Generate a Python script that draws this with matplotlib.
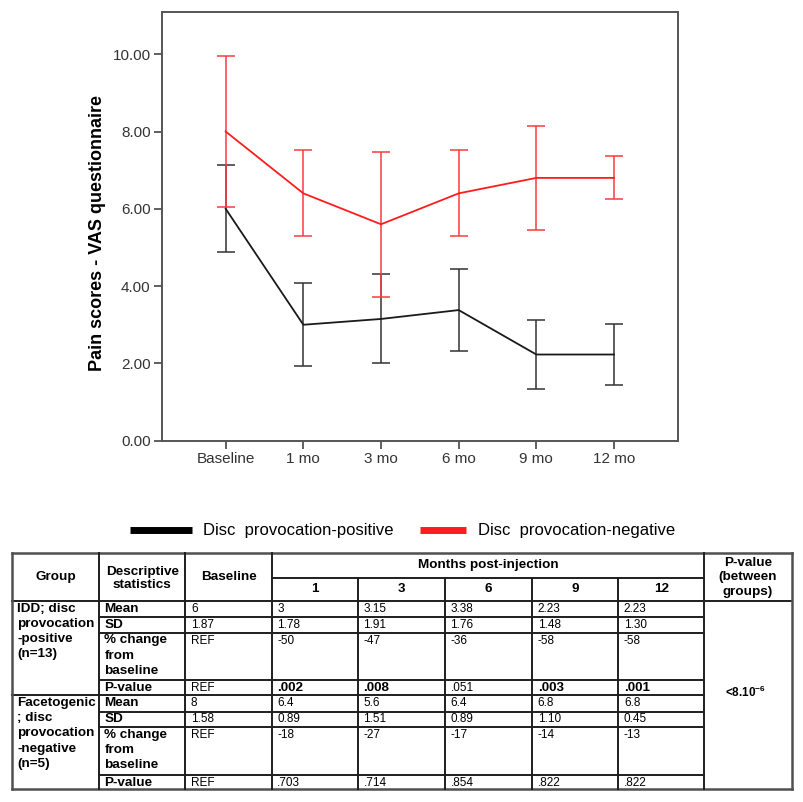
"""Pain scores (VAS) by disc provocation group, with summary table below."""
import matplotlib

matplotlib.use("Agg")
import matplotlib.pyplot as plt  # noqa: E402
from matplotlib import font_manager  # noqa: E402
from matplotlib.ticker import FormatStrFormatter  # noqa: E402

# ---- chart data ----
timepoints = ["Baseline", "1 mo", "3 mo", "6 mo", "9 mo", "12 mo"]
pos_mean = [6, 3, 3.15, 3.38, 2.23, 2.23]
pos_upper = [7.13, 4.07, 4.31, 4.45, 3.12, 3.02]
pos_lower = [4.87, 1.92, 2.00, 2.32, 1.34, 1.44]
neg_mean = [8, 6.4, 5.6, 6.4, 6.8, 6.8]
neg_upper = [9.96, 7.51, 7.48, 7.51, 8.15, 7.36]
neg_lower = [6.04, 5.29, 3.73, 5.29, 5.44, 6.25]
yticks = [0, 2, 4, 6, 8, 10]

# ---- table data ----
month_labels = ["1", "3", "6", "9", "12"]
pos_group = ["IDD; disc", "provocation", "-positive", "(n=13)"]
neg_group = ["Facetogenic", "; disc", "provocation", "-negative", "(n=5)"]
pos_sd = ["1.87", "1.78", "1.91", "1.76", "1.48", "1.30"]
pos_change = ["REF", "-50", "-47", "-36", "-58", "-58"]
pos_p = ["REF", ".002", ".008", ".051", ".003", ".001"]
pos_p_bold = [False, True, True, False, True, True]
neg_sd = ["1.58", "0.89", "1.51", "0.89", "1.10", "0.45"]
neg_change = ["REF", "-18", "-27", "-17", "-14", "-13"]
neg_p = ["REF", ".703", ".714", ".854", ".822", ".822"]
neg_p_bold = [False] * 6
between_p = r"<8.10$^{-6}$"

RED = "#ff1c1c"
BLACK = "#1a1a1a"

names = {f.name for f in font_manager.fontManager.ttflist}
MAIN_FONT = "Liberation Sans" if "Liberation Sans" in names else "DejaVu Sans"
NARROW = "Liberation Sans Narrow" if "Liberation Sans Narrow" in names else MAIN_FONT
VAL_SIZE = 9.5 if NARROW != MAIN_FONT else 8.5
plt.rcParams["font.family"] = [MAIN_FONT, "DejaVu Sans"]
plt.rcParams["mathtext.default"] = "regular"

fig = plt.figure(figsize=(8.04, 8.02), dpi=100)

# ---- line chart ----
ax = fig.add_axes([0.2011, 0.4505, 0.6422, 0.5349])
x = list(range(len(timepoints)))


def draw_series(mean, lower, upper, line_color, bar_color):
    err = [[m - lo for m, lo in zip(mean, lower)], [hi - m for m, hi in zip(mean, upper)]]
    ax.errorbar(x, mean, yerr=err, fmt="none", ecolor=bar_color, elinewidth=1.1,
                capsize=6.8, capthick=1.1, zorder=2)
    ax.plot(x, mean, color=line_color, lw=1.3, zorder=3)


draw_series(pos_mean, pos_lower, pos_upper, BLACK, "#333333")
draw_series(neg_mean, neg_lower, neg_upper, RED, "#ff3a3a")

ax.set_xlim(-0.824, 5.824)
ax.set_ylim(0, 11.1)
ax.set_xticks(x)
ax.set_xticklabels(timepoints)
ax.set_yticks(yticks)
ax.yaxis.set_major_formatter(FormatStrFormatter("%.2f"))
ax.tick_params(direction="out", length=6, width=1.2, color="#444444",
               labelcolor="#333333", labelsize=11, pad=2)
for side in ax.spines.values():
    side.set_color("#555555")
    side.set_linewidth(1.4)
ax.set_ylabel("Pain scores - VAS questionnaire", fontsize=13, fontweight="bold")
ax.yaxis.set_label_coords(-0.108, 0.483)

# ---- overlay in pixel coordinates for legend and table ----
ov = fig.add_axes([0, 0, 1, 1])
ov.set_xlim(0, 804)
ov.set_ylim(802, 0)
ov.axis("off")
ov.patch.set_visible(False)

ov.plot([130, 192], [530, 530], color="black", lw=5, solid_capstyle="butt")
ov.text(203, 530, "Disc  provocation-positive", fontsize=12, va="center", ha="left")
ov.plot([420, 466], [530, 530], color=RED, lw=5, solid_capstyle="butt")
ov.text(478, 530, "Disc  provocation-negative", fontsize=12, va="center", ha="left")

col_edges = [11.7, 99, 185.5, 271.7, 358, 445, 532.3, 618.4, 704.5, 791.7]
top, sub, head_bot, bottom = 552.7, 577.7, 601, 789.3
grp1_rows = [601, 616.7, 632.7, 680, 695.3]
grp2_rows = [695.3, 711.7, 727.3, 775, 789.3]
LINE = dict(color="#1e1e1e", lw=1.4, solid_capstyle="projecting")
BORDER = dict(color="#505050", lw=1.8, solid_capstyle="projecting")

# horizontal rules
ov.plot([col_edges[0], col_edges[-1]], [top, top], **BORDER)
ov.plot([col_edges[0], col_edges[-1]], [bottom, bottom], **BORDER)
ov.plot([col_edges[0], col_edges[-1]], [head_bot, head_bot], **LINE)
ov.plot([col_edges[3], col_edges[8]], [sub, sub], **LINE)
ov.plot([col_edges[0], col_edges[8]], [grp1_rows[-1], grp1_rows[-1]], **LINE)
for yy in grp1_rows[1:-1] + grp2_rows[1:-1]:
    ov.plot([col_edges[1], col_edges[8]], [yy, yy], **LINE)
# vertical rules
for i, xx in enumerate(col_edges):
    y0 = sub if 4 <= i <= 7 else top
    style = BORDER if i in (0, len(col_edges) - 1) else LINE
    ov.plot([xx, xx], [y0, bottom], **style)

HB = dict(fontsize=9.7, fontweight="bold", ha="center", va="center")
centers = [(a + b) / 2 for a, b in zip(col_edges[:-1], col_edges[1:])]
ov.text(centers[0], 577.3, "Group", **HB)
ov.text(centers[1], 571.7, "Descriptive", **HB)
ov.text(centers[1], 585.2, "statistics", **HB)
ov.text(centers[2], 577.3, "Baseline", **HB)
ov.text((col_edges[3] + col_edges[8]) / 2, 565, "Months post-injection", **HB)
for c, lab in zip(centers[3:8], month_labels):
    ov.text(c, 589.3, lab, **HB)
for k, lab in enumerate(["P-value", "(between", "groups)"]):
    ov.text(centers[8], 562.7 + 14.5 * k, lab, **HB)

PAD, LH, FIRST = 5.5, 15.2, 7.8


def cell_lines(col, y_top, lines, bold):
    for k, s in enumerate(lines):
        ov.text(col_edges[col] + PAD, y_top + FIRST + LH * k, s,
                fontsize=9.7 if bold else VAL_SIZE,
                family=[MAIN_FONT] if bold else [NARROW],
                fontweight="bold" if bold else "normal", ha="left", va="center")


def draw_group(rows, group_lines, mean, sd, change, pvals, pbold):
    cell_lines(0, rows[0], group_lines, True)
    stats = [("Mean", [f"{v:g}" for v in mean], [False] * 6),
             ("SD", sd, [False] * 6),
             ("% change\nfrom\nbaseline", change, [False] * 6),
             ("P-value", pvals, pbold)]
    for r, (name, vals, bolds) in enumerate(stats):
        cell_lines(1, rows[r], name.split("\n"), True)
        for j, (v, b) in enumerate(zip(vals, bolds)):
            cell_lines(2 + j, rows[r], [v], b)


draw_group(grp1_rows, pos_group, pos_mean, pos_sd, pos_change, pos_p, pos_p_bold)
draw_group(grp2_rows, neg_group, neg_mean, neg_sd, neg_change, neg_p, neg_p_bold)
ov.text(centers[8] - 3, 692.7, between_p, fontsize=8.5, fontweight="bold",
        ha="center", va="center")

fig.savefig("out.png", dpi=100)
